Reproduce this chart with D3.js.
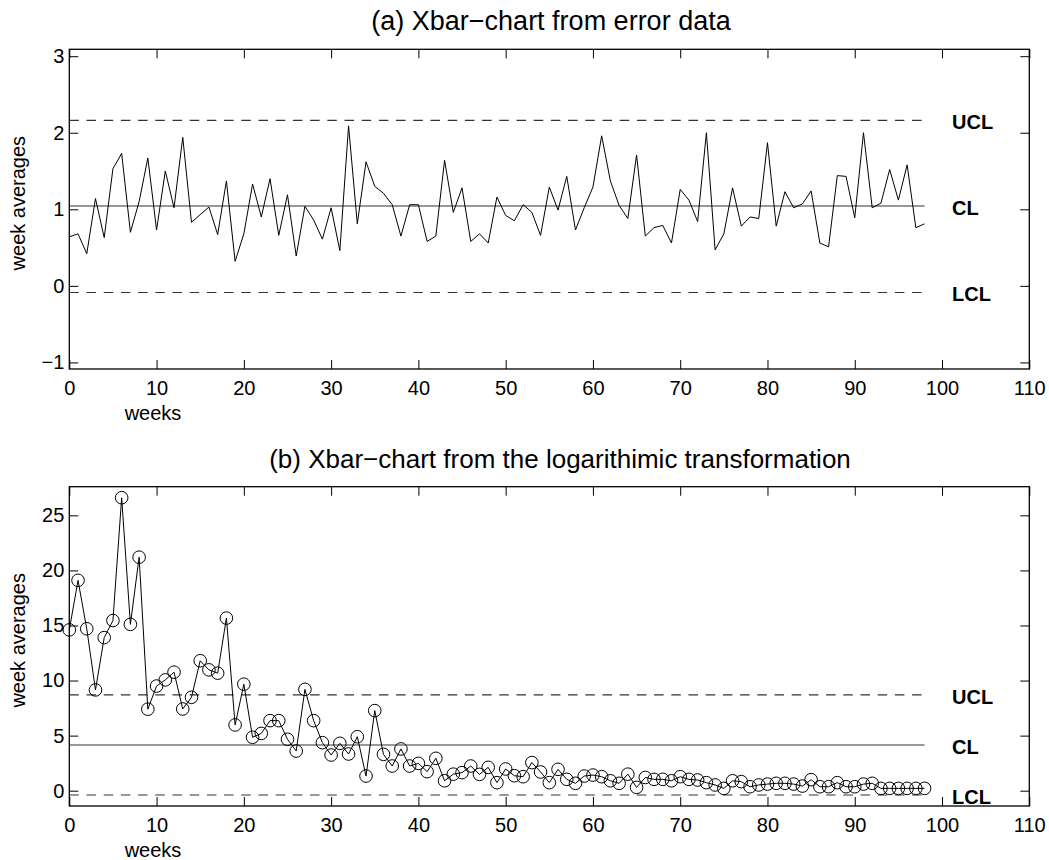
<!DOCTYPE html>
<html>
<head>
<meta charset="utf-8">
<script src="https://cdn.jsdelivr.net/npm/d3@7"></script>
<style>
  html, body { margin: 0; padding: 0; background: #fff; }
  svg { display: block; font-family: "Liberation Sans", Arial, Helvetica, sans-serif; }
</style>
</head>
<body>
<svg id="chart" width="1049" height="860"></svg>
<script>
// ---------- data ----------
const xTicks = [0, 10, 20, 30, 40, 50, 60, 70, 80, 90, 100, 110];

const errorAvg = [0.64,0.68,0.42,1.14,0.63,1.53,1.73,0.70,1.10,1.67,
  0.73,1.50,1.02,1.94,0.83,0.93,1.03,0.67,1.37,0.32,
  0.68,1.33,0.90,1.40,0.66,1.19,0.39,1.04,0.86,0.61,
  1.02,0.46,2.09,0.81,1.62,1.30,1.21,1.06,0.65,1.06,
  1.06,0.58,0.65,1.64,0.96,1.28,0.58,0.68,0.56,1.16,
  0.92,0.85,1.06,0.96,0.66,1.29,0.99,1.43,0.73,1.02,
  1.29,1.96,1.37,1.05,0.88,1.71,0.65,0.76,0.79,0.56,
  1.26,1.12,0.84,2.00,0.47,0.68,1.28,0.78,0.90,0.88,
  1.87,0.78,1.23,1.02,1.07,1.24,0.56,0.51,1.44,1.43,
  0.89,2.00,1.02,1.08,1.52,1.12,1.58,0.76,0.81];
const errorLimits = { UCL: 2.162, CL: 1.043, LCL: -0.086 };
const errorYTicks = [-1, 0, 1, 2, 3];

const logAvg = [14.6,19.1,14.7,9.15,13.9,15.45,26.6,15.1,21.2,7.4,
  9.5,10.06,10.76,7.42,8.48,11.8,10.97,10.67,15.67,5.97,
  9.67,4.85,5.2,6.36,6.36,4.67,3.6,9.2,6.36,4.36,
  3.24,4.3,3.33,4.9,1.33,7.27,3.3,2.24,3.79,2.24,
  2.48,1.73,2.94,0.9,1.5,1.64,2.24,1.48,2.12,0.73,
  1.97,1.36,1.27,2.55,1.7,0.73,1.94,1.03,0.67,1.33,
  1.42,1.27,0.9,0.67,1.5,0.3,1.2,1.03,1.03,0.9,
  1.27,1.03,0.97,0.73,0.52,0.21,0.9,0.82,0.36,0.52,
  0.6,0.67,0.67,0.6,0.42,1.0,0.36,0.36,0.73,0.36,
  0.36,0.6,0.67,0.21,0.21,0.21,0.21,0.21,0.21];
const logLimits = { UCL: 8.70, CL: 4.15, LCL: -0.39 };
const logYTicks = [0, 5, 10, 15, 20, 25];

// ---------- drawing ----------
const svg = d3.select("#chart");
const FONT = 20;

function panel(opts) {
  const { top, bottom, left, right, values, limits, yTicks, title, titleX, titleSize, markers } = opts;
  const x = d3.scaleLinear().domain([0, 110]).range([left, right]);
  const yMin = limits.LCL - 1;
  const yMax = d3.max(values) + 1;
  const y = d3.scaleLinear().domain([yMin, yMax]).range([bottom, top]);
  const g = svg.append("g");

  const ax = (axis, tr) => {
    const a = g.append("g").attr("transform", tr).call(axis);
    a.select(".domain").remove();
    a.selectAll(".tick line").attr("stroke", "#000").attr("stroke-width", 1);
    a.selectAll("text").attr("fill", "#000").style("font-size", FONT + "px");
    return a;
  };
  ax(d3.axisBottom(x).tickValues(xTicks).tickSize(-9).tickPadding(12).tickFormat(d3.format("d")),
     `translate(0,${bottom})`);
  ax(d3.axisTop(x).tickValues(xTicks).tickSize(-9).tickFormat(""), `translate(0,${top})`);
  ax(d3.axisLeft(y).tickValues(yTicks).tickSize(-9).tickPadding(5).tickFormat(d => d < 0 ? "\u2212" + Math.abs(d) : d),
     `translate(${left},0)`);
  ax(d3.axisRight(y).tickValues(yTicks).tickSize(-9).tickFormat(""), `translate(${right},0)`);

  g.append("rect").attr("x", left).attr("y", top)
    .attr("width", right - left).attr("height", bottom - top)
    .attr("fill", "none").attr("stroke", "#000").attr("stroke-width", 1.3);

  const xEnd = values.length - 1;
  [["UCL", "9.5,7.7"], ["CL", null], ["LCL", "9.5,7.7"]].forEach(([k, dash]) => {
    const ln = g.append("line")
      .attr("x1", x(0)).attr("x2", x(xEnd))
      .attr("y1", y(limits[k])).attr("y2", y(limits[k]))
      .attr("stroke", "#333").attr("stroke-width", 1.1);
    if (dash) ln.attr("stroke-dasharray", dash);
    g.append("text").attr("x", 952).attr("y", y(limits[k]) + 2)
      .attr("dominant-baseline", "central")
      .style("font-size", FONT + "px").style("font-weight", "bold")
      .text(k);
  });

  const line = d3.line().x((d, i) => x(i)).y(d => y(d));
  g.append("path").datum(values).attr("d", line)
    .attr("fill", "none").attr("stroke", "#000").attr("stroke-width", 1);

  if (markers) {
    g.selectAll("circle.m").data(values).join("circle")
      .attr("class", "m")
      .attr("cx", (d, i) => x(i)).attr("cy", d => y(d)).attr("r", 6.3)
      .attr("fill", "none").attr("stroke", "#000").attr("stroke-width", 1);
  }

  g.append("text").attr("x", titleX).attr("y", top - 19)
    .attr("text-anchor", "middle").style("font-size", titleSize + "px").text(title);
  g.append("text").attr("x", 153).attr("y", bottom + 51)
    .attr("text-anchor", "middle").style("font-size", FONT + "px").text("weeks");
  g.append("text")
    .attr("transform", `translate(25,${(top + bottom) / 2 - 6}) rotate(-90)`)
    .attr("text-anchor", "middle").style("font-size", FONT + "px").text("week averages");
}

panel({ top: 49.3, bottom: 369, left: 69.3, right: 1029.3,
  values: errorAvg, limits: errorLimits, yTicks: errorYTicks,
  title: "(a) Xbar\u2212chart from error data", titleX: 551, titleSize: 27, markers: false });

panel({ top: 486.7, bottom: 806, left: 69.3, right: 1029.3,
  values: logAvg, limits: logLimits, yTicks: logYTicks,
  title: "(b) Xbar\u2212chart from the logarithimic transformation", titleX: 560, titleSize: 26, markers: true });
</script>
</body>
</html>
